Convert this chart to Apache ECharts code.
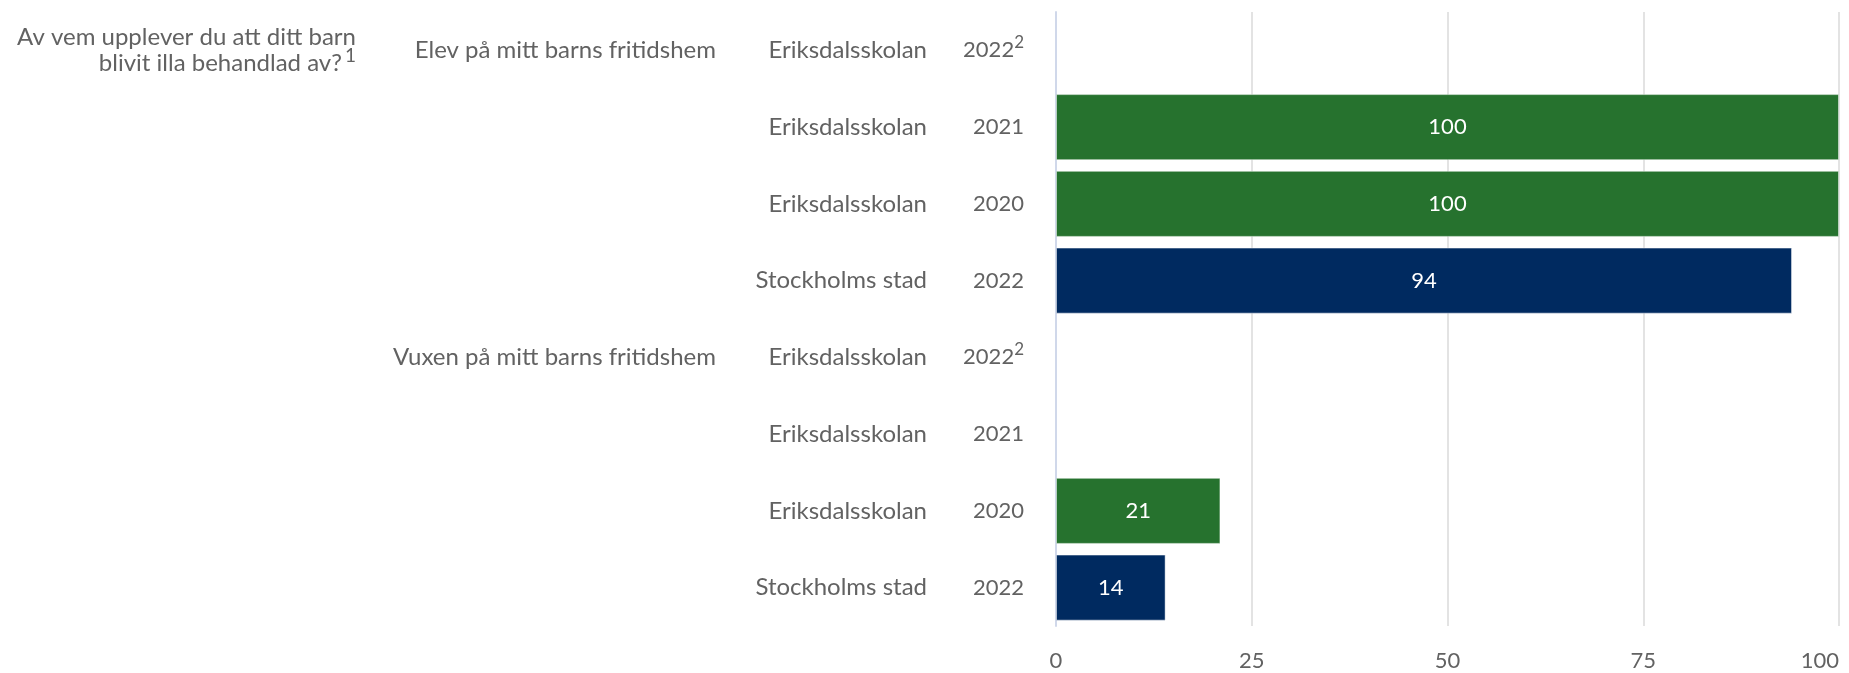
<!DOCTYPE html>
<html lang="sv">
  <head>
    <meta charset="UTF-8" />
    <title>Av vem upplever du att ditt barn blivit illa behandlad av?</title>
    <script src="https://cdn.jsdelivr.net/npm/echarts@6/dist/echarts.min.js"></script>
    <style>
      * { margin: 0; padding: 0; box-sizing: border-box; }
      body { background: #fff; }
      #chart { width: 1849px; height: 673px; }
    </style>
  </head>
  <body>
    <div id="chart"></div>
    <script>
      /* ---------- data ---------- */
      const question = ["Av vem upplever du att ditt barn", "blivit illa behandlad av?"];
      const questionNote = "1";
      const groups = ["Elev på mitt barns fritidshem", "", "", "", "Vuxen på mitt barns fritidshem", "", "", ""];
      const units = ["Eriksdalsskolan", "Eriksdalsskolan", "Eriksdalsskolan", "Stockholms stad",
                     "Eriksdalsskolan", "Eriksdalsskolan", "Eriksdalsskolan", "Stockholms stad"];
      const years = ["2022", "2021", "2020", "2022", "2022", "2021", "2020", "2022"];
      const yearNotes = ["2", "", "", "", "2", "", "", ""];
      const values = [null, 100, 100, 94, null, null, 21, 14];
      const xTicks = [0, 25, 50, 75, 100];

      /* ---------- style ---------- */
      const textColor = "#626262";
      const green = "#26722e";
      const navy = "#002a60";
      const axisBlue = "#d0d8ea";
      const font = "Lato";
      const fs = 24;   // text labels
      const fsNum = 22; // numbers

      const chart = echarts.init(document.getElementById("chart"), null, { renderer: "canvas" });

      const idx = years.map((_, i) => i);
      const supStyle = { fontSize: 17, color: textColor, fontFamily: font, padding: [0, 0, 15, 0] };
      const baseLabel = { color: textColor, fontFamily: font, fontSize: fs, align: "right", interval: 0 };
      const hiddenAxis = {
        type: "category",
        inverse: true,
        data: idx,
        position: "left",
        axisLine: { show: false },
        axisTick: { show: false },
        splitLine: { show: false },
      };

      const option = {
        animation: false,
        backgroundColor: "#fff",
        grid: { left: 1056, right: 10, top: 12, bottom: 47, containLabel: false, outerBoundsMode: "none" },
        xAxis: {
          type: "value",
          min: xTicks[0],
          max: xTicks[xTicks.length - 1],
          interval: 25,
          axisLine: { show: false },
          axisTick: { show: false },
          axisLabel: { color: textColor, fontFamily: font, fontSize: fsNum, margin: 24, alignMaxLabel: "right" },
          splitLine: { lineStyle: { color: "#e3e3e3", width: 2 } },
        },
        yAxis: [
          {
            type: "category",
            inverse: true,
            data: idx,
            position: "left",
            axisLine: { lineStyle: { color: axisBlue, width: 2 } },
            axisTick: { length: 21, lineStyle: { color: axisBlue, width: 2 } },
            axisLabel: Object.assign({}, baseLabel, {
              fontSize: fsNum,
              margin: 32,
              formatter: (v) => {
                const i = Number(v);
                return yearNotes[i] ? years[i] + "{sup|" + yearNotes[i] + "}" : years[i];
              },
              rich: { sup: supStyle },
            }),
          },
          Object.assign({}, hiddenAxis, {
            axisLabel: Object.assign({}, baseLabel, { margin: 129, formatter: (v) => units[Number(v)] }),
          }),
          Object.assign({}, hiddenAxis, {
            axisLabel: Object.assign({}, baseLabel, { margin: 340, formatter: (v) => groups[Number(v)] }),
          }),
          Object.assign({}, hiddenAxis, {
            axisLabel: Object.assign({}, baseLabel, {
              margin: 700,
              lineHeight: 26,
              formatter: (v) =>
                Number(v) === 0
                  ? question[0] + "\n" + question[1] + "{sup|" + questionNote + "}"
                  : "",
              rich: { sup: Object.assign({}, supStyle, { fontSize: 19, padding: [0, 0, 16, 3] }) },
            }),
          }),
        ],
        series: [
          {
            type: "bar",
            yAxisIndex: 0,
            barCategoryGap: "14%",
            data: values.map((v, i) => ({
              value: v,
              itemStyle: {
                color: units[i] === "Stockholms stad" ? navy : green,
                borderColor: "rgba(255,255,255,0.45)",
                borderWidth: 1,
              },
            })),
            label: {
              show: true,
              position: "inside",
              color: "#fff",
              fontFamily: font,
              fontSize: fsNum,
            },
          },
        ],
      };

      chart.setOption(option);
    </script>
  </body>
</html>
